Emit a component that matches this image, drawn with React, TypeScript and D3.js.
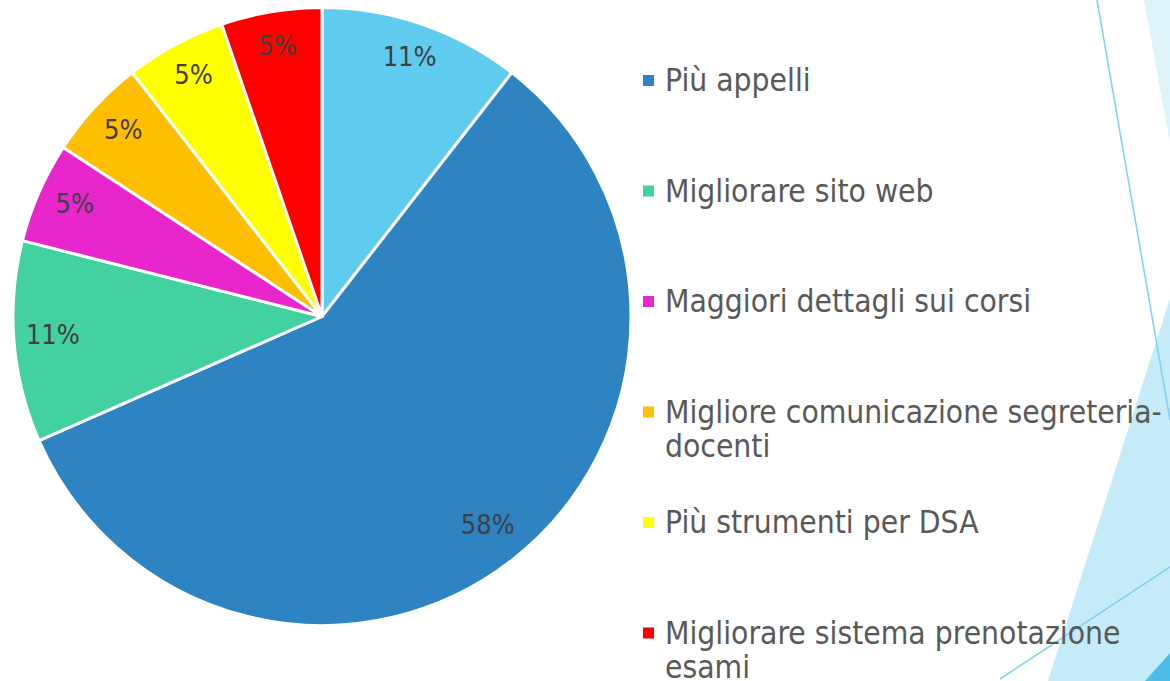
import React, { useEffect, useRef } from "react";
import * as d3 from "d3";

// answers counted by hand from the slide (19 responses)
const categories = [
  "Altro",
  "Più appelli",
  "Migliorare sito web",
  "Maggiori dettagli sui corsi",
  "Migliore comunicazione segreteria-docenti",
  "Più strumenti per DSA",
  "Migliorare sistema prenotazione esami",
];
const counts = [2, 11, 2, 1, 1, 1, 1];
const colors = ["#5ecbef", "#2e83c3", "#43d1a1", "#e926cc", "#ffbe00", "#ffff00", "#ff0000"];
// the first slice is cut out of the legend on the slide
const legendItems = [1, 2, 3, 4, 5, 6, 0];

const W = 1170;
const H = 681;

const App: React.FC = () => {
  const svgRef = useRef<any>();

  useEffect(() => {
    const svg = d3.select(svgRef.current);
    svg.selectAll("*").remove();

    // theme decoration on the right
    const deco = svg.append("g");
    deco.append("polygon").attr("points", "1144,0 1170,0 1170,143").attr("fill", "#dff3fa");
    deco.append("polygon").attr("points", "1178,273 1170,273 1170,681 1048,681").attr("fill", "#c6ebf8");
    deco.append("polygon").attr("points", "1145,681 1170,653 1170,681").attr("fill", "#4bbde8");
    deco
      .append("line")
      .attr("x1", 1097).attr("y1", 0).attr("x2", 1170).attr("y2", 420)
      .attr("stroke", "#7fd2f0").attr("stroke-width", 1.5);
    deco
      .append("line")
      .attr("x1", 1000).attr("y1", 679).attr("x2", 1170).attr("y2", 567)
      .attr("stroke", "#7fd2f0").attr("stroke-width", 1.5);

    const cx = 322;
    const cy = 316.5;
    const radius = 309;

    const data = categories.map((name, i) => ({ name, value: counts[i], color: colors[i] }));
    const total = d3.sum(counts);

    const pie = d3
      .pie<{ name: string; value: number; color: string }>()
      .sort(null)
      .value((d) => d.value);
    const arcs = pie(data);

    const arc: any = d3.arc().innerRadius(0).outerRadius(radius);
    const arcLabel: any = d3.arc().innerRadius(270).outerRadius(270);

    const g = svg.append("g").attr("transform", `translate(${cx},${cy})`);

    g.append("g")
      .attr("stroke", "white")
      .attr("stroke-width", 3)
      .attr("stroke-linejoin", "round")
      .selectAll()
      .data(arcs)
      .join("path")
      .attr("fill", (d) => d.data.color)
      .attr("d", arc);

    g.append("g")
      .attr("text-anchor", "middle")
      .attr("font-family", "DejaVu Sans")
      .attr("font-stretch", "condensed")
      .attr("font-size", 27)
      .attr("fill", "#404040")
      .selectAll()
      .data(arcs)
      .join("text")
      .attr("transform", (d) => `translate(${arcLabel.centroid(d)})`)
      .attr("dy", "0.18em")
      .text((d) => `${Math.round((d.data.value / total) * 100)}%`);

    // legend
    const y = d3.scaleLinear().domain([0, 1]).range([80, 190.5]);
    const legend = svg
      .append("g")
      .attr("font-family", "DejaVu Sans")
      .attr("font-stretch", "condensed")
      .attr("font-size", 31.5)
      .attr("fill", "#595959");

    legendItems.forEach((idx, i) => {
      const row = legend.append("g").attr("transform", `translate(0,${y(i)})`);
      row
        .append("rect")
        .attr("x", 643)
        .attr("y", -5)
        .attr("width", 11)
        .attr("height", 11)
        .attr("fill", colors[idx]);
      const text = row.append("text").attr("x", 665).attr("dy", "0.35em");
      // simple wrapping at spaces and hyphens
      const words = categories[idx].split(/(?<=-)|\s+/);
      let line: string[] = [];
      let tspan = text.append("tspan").attr("x", 665);
      words.forEach((w) => {
        const joined = line.length && !line[line.length - 1].endsWith("-") ? " " : "";
        const trial = line.length ? line.join("") + joined + w : w;
        tspan.text(trial);
        if ((tspan.node() as any).getComputedTextLength() > 500 && line.length) {
          tspan.text(line.join(""));
          tspan = text.append("tspan").attr("x", 665).attr("dy", "1.1em").text(w);
          line = [w];
        } else {
          line = [trial];
        }
      });
    });
  }, []);

  return (
    <svg
      ref={svgRef}
      width={W}
      height={H}
      style={{ position: "absolute", left: 0, top: 0, background: "white" }}
    ></svg>
  );
};

export default App;
